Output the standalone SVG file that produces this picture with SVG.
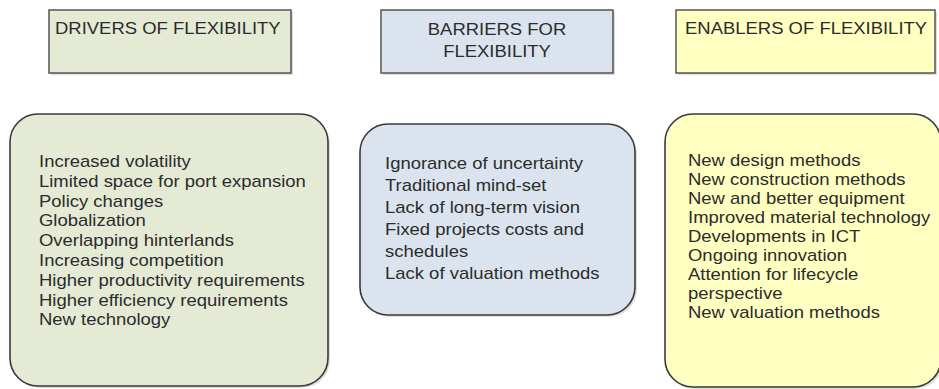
<svg xmlns="http://www.w3.org/2000/svg" width="939" height="389" viewBox="0 0 939 389">
  <defs>
    <style>
      .hdr { stroke: #4a4a4a; stroke-width: 1.4; }
      .body { stroke: #3a3a3a; stroke-width: 1.6; }
      .shadow { fill: #c8c8c8; opacity: 0.6; }
      .green { fill: #e5ead5; }
      .blue { fill: #dbe3ee; }
      .yellow { fill: #ffffc2; }
      text { font-family: "Liberation Sans", Arial, sans-serif; font-size: 16px; fill: #2c2c2c; }
      .mid { text-anchor: middle; }
    </style>
  </defs>
  <rect width="939" height="389" fill="#ffffff"/>

  <!-- Column 1: drivers -->
  <g id="drivers-title">
    <rect class="shadow" x="51" y="12" width="242" height="63"/>
    <rect class="hdr green" x="49" y="10" width="242" height="63"/>
    <g transform="translate(55 0) scale(1.155 1)">
      <text x="0" y="34">DRIVERS OF FLEXIBILITY</text>
    </g>
  </g>
  <g id="drivers-list">
    <rect class="shadow" x="12" y="116" width="318" height="272" rx="28"/>
    <rect class="body green" x="10" y="114" width="318" height="272" rx="28"/>
    <g transform="translate(39 0) scale(1.155 1)">
      <text x="0" y="167">Increased volatility</text>
      <text x="0" y="186.8">Limited space for port expansion</text>
      <text x="0" y="206.6">Policy changes</text>
      <text x="0" y="226.4">Globalization</text>
      <text x="0" y="246.2">Overlapping hinterlands</text>
      <text x="0" y="266">Increasing competition</text>
      <text x="0" y="285.8">Higher productivity requirements</text>
      <text x="0" y="305.6">Higher efficiency requirements</text>
      <text x="0" y="325.4">New technology</text>
    </g>
  </g>

  <!-- Column 2: barriers -->
  <g id="barriers-title">
    <rect class="shadow" x="383" y="12" width="232" height="63"/>
    <rect class="hdr blue" x="381" y="10" width="232" height="63"/>
    <g transform="translate(497 0) scale(1.155 1)">
      <text class="mid" x="0" y="35">BARRIERS FOR</text>
      <text class="mid" x="0" y="57">FLEXIBILITY</text>
    </g>
  </g>
  <g id="barriers-list">
    <rect class="shadow" x="362" y="126" width="275" height="191" rx="28"/>
    <rect class="body blue" x="360" y="124" width="275" height="191" rx="28"/>
    <g transform="translate(385 0) scale(1.155 1)">
      <text x="0" y="169">Ignorance of uncertainty</text>
      <text x="0" y="191">Traditional mind-set</text>
      <text x="0" y="213">Lack of long-term vision</text>
      <text x="0" y="235">Fixed projects costs and</text>
      <text x="0" y="257">schedules</text>
      <text x="0" y="279">Lack of valuation methods</text>
    </g>
  </g>

  <!-- Column 3: enablers -->
  <g id="enablers-title">
    <rect class="shadow" x="678" y="12" width="259" height="63"/>
    <rect class="hdr yellow" x="676" y="10" width="259" height="63"/>
    <g transform="translate(685 0) scale(1.155 1)">
      <text x="0" y="34">ENABLERS OF FLEXIBILITY</text>
    </g>
  </g>
  <g id="enablers-list">
    <rect class="shadow" x="667" y="116" width="276" height="273" rx="28"/>
    <rect class="body yellow" x="665" y="114" width="276" height="273" rx="28"/>
    <g transform="translate(688 0) scale(1.155 1)">
      <text x="0" y="166">New design methods</text>
      <text x="0" y="185">New construction methods</text>
      <text x="0" y="204">New and better equipment</text>
      <text x="0" y="223">Improved material technology</text>
      <text x="0" y="242">Developments in ICT</text>
      <text x="0" y="261">Ongoing innovation</text>
      <text x="0" y="280">Attention for lifecycle</text>
      <text x="0" y="299">perspective</text>
      <text x="0" y="318">New valuation methods</text>
    </g>
  </g>

  <!-- no connectors in this figure -->
  <g id="connectors"></g>
</svg>
